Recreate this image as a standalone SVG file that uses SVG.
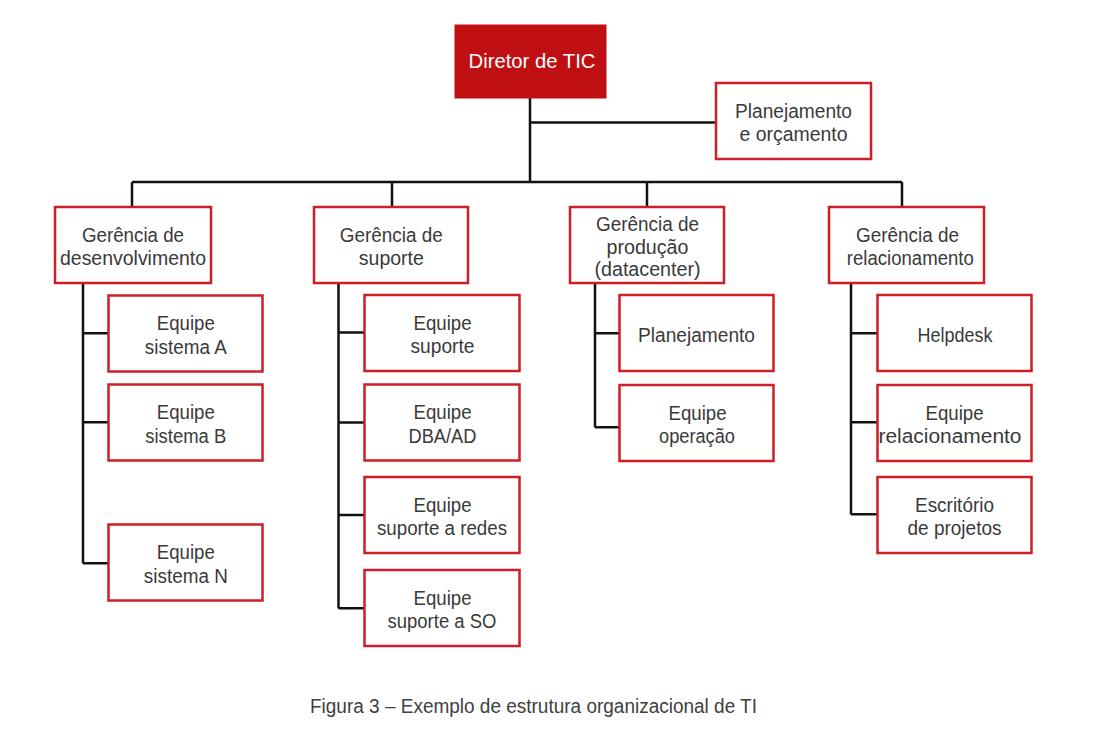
<svg xmlns="http://www.w3.org/2000/svg" width="1093" height="732" viewBox="0 0 1093 732">
<style>
.box{fill:#ffffff;stroke:#cc1f26;stroke-width:2.5}
.top{fill:#c00f12;stroke:#c00f12;stroke-width:1}
.t{font-family:"Liberation Sans",Arial,sans-serif;font-size:20px;fill:#3a3a3a;text-anchor:middle}
.w{fill:#ffffff}
.cap{font-family:"Liberation Sans",Arial,sans-serif;font-size:20px;fill:#404040;text-anchor:middle}
.ln{fill:none;stroke:#111111;stroke-width:2.5}
</style>
<rect width="1093" height="732" fill="#ffffff"/>
<g id="connectors">
<path class="ln" d="M530 98 V182 M530 122.5 H716 M132 182 H902 M132 182 V207 M392 182 V207 M647 182 V207 M902 182 V207"/>
<path class="ln" d="M83 283 V563.5 M83 333.3 H108 M83 422.3 H108 M83 563.3 H108"/>
<path class="ln" d="M338.5 283 V608.5 M338.5 332.5 H364 M338.5 422.5 H364 M338.5 515 H364 M338.5 608.3 H364"/>
<path class="ln" d="M595 283 V427.5 M595 333.3 H619 M595 427.3 H619"/>
<path class="ln" d="M851 283 V514.5 M851 333.3 H877 M851 422.3 H877 M851 514.3 H877"/>
</g>
<g id="diretor">
<rect class="top" x="455" y="25" width="151" height="73"/>
<text class="t w" x="532" y="67.7" textLength="127" lengthAdjust="spacingAndGlyphs">Diretor de TIC</text>
</g>
<g id="planejamento-orcamento">
<rect class="box" x="716" y="83" width="155" height="76"/>
<text class="t" x="793.5" y="117.7" textLength="117" lengthAdjust="spacingAndGlyphs">Planejamento</text>
<text class="t" x="793.5" y="141.3" textLength="108" lengthAdjust="spacingAndGlyphs">e orçamento</text>
</g>
<g id="ger-desenvolvimento">
<rect class="box" x="55" y="207" width="156" height="76"/>
<text class="t" x="133" y="241.7" textLength="102" lengthAdjust="spacingAndGlyphs">Gerência de</text>
<text class="t" x="133" y="265.3" textLength="146" lengthAdjust="spacingAndGlyphs">desenvolvimento</text>
</g>
<g id="eq-sistema-a">
<rect class="box" x="108.5" y="295.5" width="154" height="76"/>
<text class="t" x="185.8" y="330.2" textLength="58" lengthAdjust="spacingAndGlyphs">Equipe</text>
<text class="t" x="185.8" y="353.8" textLength="82" lengthAdjust="spacingAndGlyphs">sistema A</text>
</g>
<g id="eq-sistema-b">
<rect class="box" x="108.5" y="384.5" width="154" height="76"/>
<text class="t" x="185.8" y="419.2" textLength="58" lengthAdjust="spacingAndGlyphs">Equipe</text>
<text class="t" x="185.8" y="442.8" textLength="81" lengthAdjust="spacingAndGlyphs">sistema B</text>
</g>
<g id="eq-sistema-n">
<rect class="box" x="108.5" y="524.5" width="154" height="76"/>
<text class="t" x="185.8" y="559.2" textLength="58" lengthAdjust="spacingAndGlyphs">Equipe</text>
<text class="t" x="185.8" y="582.8" textLength="84" lengthAdjust="spacingAndGlyphs">sistema N</text>
</g>
<g id="ger-suporte">
<rect class="box" x="314" y="207" width="154" height="76"/>
<text class="t" x="391.3" y="241.7" textLength="103" lengthAdjust="spacingAndGlyphs">Gerência de</text>
<text class="t" x="391.3" y="265.3" textLength="65" lengthAdjust="spacingAndGlyphs">suporte</text>
</g>
<g id="eq-suporte">
<rect class="box" x="364.5" y="295" width="155" height="76"/>
<text class="t" x="442.5" y="329.7" textLength="58" lengthAdjust="spacingAndGlyphs">Equipe</text>
<text class="t" x="442.5" y="353.3" textLength="64" lengthAdjust="spacingAndGlyphs">suporte</text>
</g>
<g id="eq-dba">
<rect class="box" x="364.5" y="384.5" width="155" height="76"/>
<text class="t" x="442.5" y="419.2" textLength="58" lengthAdjust="spacingAndGlyphs">Equipe</text>
<text class="t" x="442.5" y="442.8" textLength="68" lengthAdjust="spacingAndGlyphs">DBA/AD</text>
</g>
<g id="eq-redes">
<rect class="box" x="364.5" y="477" width="155" height="76"/>
<text class="t" x="442.5" y="511.7" textLength="58" lengthAdjust="spacingAndGlyphs">Equipe</text>
<text class="t" x="442" y="535.3" textLength="130" lengthAdjust="spacingAndGlyphs">suporte a redes</text>
</g>
<g id="eq-so">
<rect class="box" x="364.5" y="570" width="155" height="76"/>
<text class="t" x="442.5" y="604.7" textLength="58" lengthAdjust="spacingAndGlyphs">Equipe</text>
<text class="t" x="442" y="628.3" textLength="109" lengthAdjust="spacingAndGlyphs">suporte a SO</text>
</g>
<g id="ger-producao">
<rect class="box" x="570" y="207" width="154" height="76"/>
<text class="t" x="647.5" y="231" textLength="103" lengthAdjust="spacingAndGlyphs">Gerência de</text>
<text class="t" x="647.5" y="253.5" textLength="82" lengthAdjust="spacingAndGlyphs">produção</text>
<text class="t" x="647.5" y="276" textLength="106" lengthAdjust="spacingAndGlyphs">(datacenter)</text>
</g>
<g id="planejamento">
<rect class="box" x="619.5" y="295" width="154" height="76"/>
<text class="t" x="696.5" y="341.5" textLength="117" lengthAdjust="spacingAndGlyphs">Planejamento</text>
</g>
<g id="eq-operacao">
<rect class="box" x="619.5" y="385" width="154" height="76"/>
<text class="t" x="697.5" y="419.7" textLength="58" lengthAdjust="spacingAndGlyphs">Equipe</text>
<text class="t" x="697" y="443.3" textLength="76" lengthAdjust="spacingAndGlyphs">operação</text>
</g>
<g id="ger-relacionamento">
<rect class="box" x="829" y="207" width="155" height="76"/>
<text class="t" x="907.5" y="241.7" textLength="103" lengthAdjust="spacingAndGlyphs">Gerência de</text>
<text class="t" x="910.3" y="265.3" textLength="127" lengthAdjust="spacingAndGlyphs">relacionamento</text>
</g>
<g id="helpdesk">
<rect class="box" x="877.5" y="295" width="154" height="76"/>
<text class="t" x="955" y="341.5" textLength="75" lengthAdjust="spacingAndGlyphs">Helpdesk</text>
</g>
<g id="eq-relacionamento">
<rect class="box" x="877.5" y="385" width="154" height="76"/>
<text class="t" x="954.5" y="419.7" textLength="58" lengthAdjust="spacingAndGlyphs">Equipe</text>
<text class="t" x="950" y="443.3" textLength="143" lengthAdjust="spacingAndGlyphs">relacionamento</text>
</g>
<g id="escritorio">
<rect class="box" x="877.5" y="477" width="154" height="76"/>
<text class="t" x="954.5" y="511.7" textLength="79" lengthAdjust="spacingAndGlyphs">Escritório</text>
<text class="t" x="954.5" y="535.3" textLength="94" lengthAdjust="spacingAndGlyphs">de projetos</text>
</g>
<text class="cap" x="533.5" y="712.5" textLength="447" lengthAdjust="spacingAndGlyphs">Figura 3 – Exemplo de estrutura organizacional de TI</text>
</svg>
